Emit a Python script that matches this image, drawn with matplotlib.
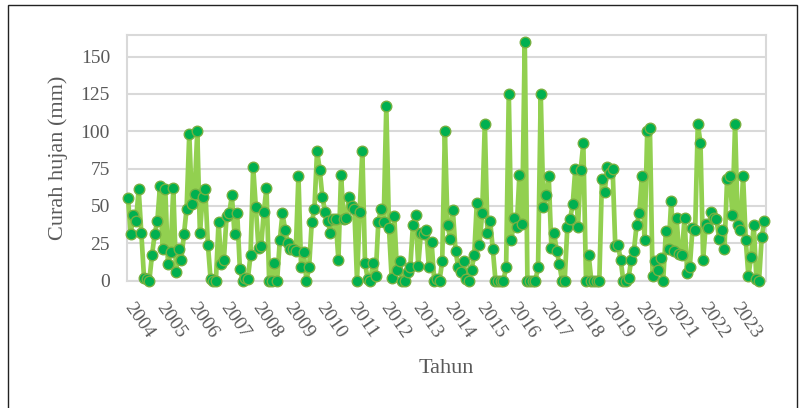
import numpy as np
import matplotlib
matplotlib.use("Agg")
import matplotlib.pyplot as plt
from matplotlib.patches import Rectangle

# curah hujan bulanan 2004-2023 (mm)
y2004 = [55, 31, 44, 40, 61, 32, 2, 1, 0, 17, 31, 40]
y2005 = [63, 21, 61, 11, 19, 62, 6, 21, 14, 31, 48, 98]
y2006 = [51, 58, 100, 32, 56, 61, 24, 1, 0, 0, 39, 11]
y2007 = [14, 43, 45, 57, 31, 45, 8, 0, 2, 1, 17, 76]
y2008 = [49, 22, 23, 46, 62, 0, 0, 12, 0, 27, 45, 34]
y2009 = [25, 21, 21, 20, 70, 9, 19, 0, 9, 39, 48, 87]
y2010 = [74, 56, 46, 40, 32, 41, 41, 14, 71, 41, 42, 56]
y2011 = [50, 48, 0, 46, 87, 12, 1, 0, 12, 3, 39, 48]
y2012 = [39, 117, 35, 2, 43, 7, 13, 0, 0, 6, 9, 37]
y2013 = [44, 10, 32, 31, 34, 9, 26, 0, 1, 0, 13, 100]
y2014 = [37, 28, 47, 20, 9, 6, 13, 1, 0, 7, 17, 52]
y2015 = [24, 45, 105, 32, 40, 21, 0, 0, 0, 0, 9, 125]
y2016 = [27, 42, 36, 71, 38, 160, 0, 0, 0, 0, 9, 125]
y2017 = [49, 57, 70, 22, 32, 20, 11, 0, 0, 36, 41, 51]
y2018 = [75, 36, 74, 92, 0, 17, 0, 0, 0, 0, 68, 59]
y2019 = [76, 72, 75, 23, 24, 14, 0, 0, 2, 14, 20, 37]
y2020 = [45, 70, 27, 100, 102, 3, 13, 7, 15, 0, 33, 21]
y2021 = [53, 20, 42, 18, 17, 42, 5, 9, 35, 34, 105, 92]
y2022 = [14, 38, 35, 46, 42, 41, 28, 34, 21, 68, 70, 44]
y2023 = [105, 37, 34, 70, 27, 3, 16, 37, 1, 0, 29, 40]

tahun = [str(t) for t in range(2004, 2024)]
hujan = (y2004 + y2005 + y2006 + y2007 + y2008 + y2009 + y2010 + y2011 +
         y2012 + y2013 + y2014 + y2015 + y2016 + y2017 + y2018 + y2019 +
         y2020 + y2021 + y2022 + y2023)

plt.rcParams['font.family'] = ['Liberation Serif', 'DejaVu Serif']
abu = '#595959'
garis = '#d9d9d9'

fig = plt.figure(figsize=(8.05, 4.08), dpi=100)
ax = fig.add_axes([0.1574, 0.3125, 0.7938, 0.6017])

x = np.arange(len(hujan))
ax.plot(x, hujan, color='#92d050', lw=3.4, marker='o', ms=7.6,
        mfc='#00b050', mec='#76b041', mew=1, clip_on=False, zorder=3)

ax.set_xlim(-0.5, len(hujan) - 0.5)
ax.set_ylim(0, 164.5)
ax.set_yticks([0, 25, 50, 75, 100, 125, 150])
ax.set_xticks(np.arange(0, len(hujan), 12))
ax.set_xticklabels(tahun)
ax.grid(axis='y', color=garis, lw=1.5)
ax.set_axisbelow(True)
for s in ax.spines.values():
    s.set_color(garis)
    s.set_linewidth(1.5)

ax.tick_params(axis='both', length=0, labelsize=14, labelcolor=abu)
ax.tick_params(axis='y', pad=12)
ax.tick_params(axis='x', pad=17)
plt.setp(ax.get_xticklabels(), rotation=-55, rotation_mode='anchor',
         ha='left', va='center')

ax.set_ylabel('Curah hujan (mm)', fontsize=16, color=abu)
ax.yaxis.set_label_coords(-0.092, 0.5)
fig.text(446 / 805, 1 - 373 / 408, 'Tahun', fontsize=16, color=abu,
         ha='center', va='baseline')

# bingkai area grafik
fig.add_artist(Rectangle((7.5 / 805, -0.1), (797 - 7.5) / 805, 1.1 - 5 / 408,
                         transform=fig.transFigure, fill=False,
                         ec='#222222', lw=1))

fig.savefig('out.png', dpi=100)
